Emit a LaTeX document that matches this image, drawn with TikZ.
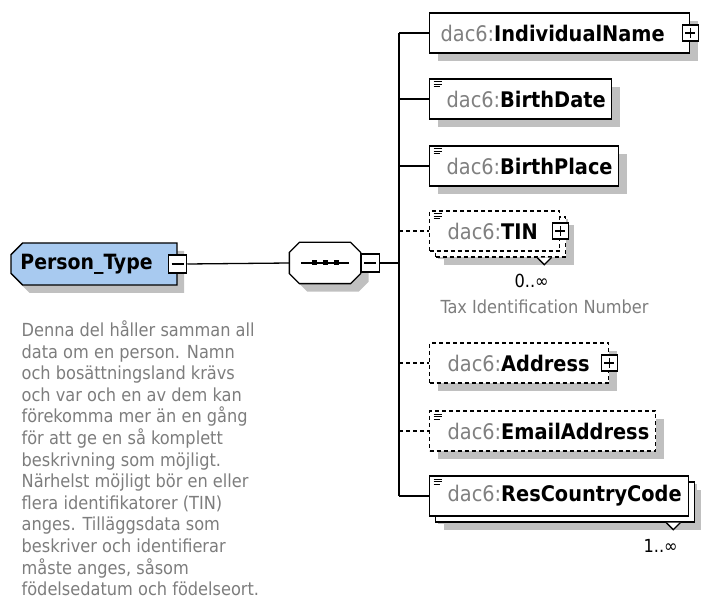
\documentclass[tikz,border=0pt]{standalone}
\usepackage{fontspec}
\setmainfont{DejaVu Sans Condensed}
\usetikzlibrary{positioning,shadows,shapes.misc}

\definecolor{typeblue}{RGB}{168,202,240}
\definecolor{shadowgray}{RGB}{192,192,192}
\definecolor{prefixgray}{RGB}{128,128,128}
\definecolor{docgray}{RGB}{125,125,125}

\newcommand{\elemfont}{\fontsize{21.5}{24}\selectfont}
\newcommand{\docfont}{\fontsize{18}{21.6}\selectfont}
\newcommand{\pfx}{\textcolor{prefixgray}{dac6:}}

\begin{document}
\begin{tikzpicture}[x=1pt, y=-1pt, line width=1.3pt,
  elem/.style={draw, fill=white, anchor=west, minimum height=40pt, inner sep=0pt, align=left, font=\elemfont,
    general shadow={fill=shadowgray, shadow xshift=8pt, shadow yshift=-8pt}},
  optional/.style={dash pattern=on 4pt off 3pt},
  multi/.style={general shadow={fill=shadowgray, shadow xshift=14pt, shadow yshift=-14pt},
    general shadow={draw=black, fill=white, shadow xshift=6pt, shadow yshift=-6pt}},
  note/.style={path picture={\draw[solid, line width=1pt]
    ([shift={(4pt,-3pt)}]path picture bounding box.north west) -- ++(8pt,0pt)
    ([shift={(4pt,-5.5pt)}]path picture bounding box.north west) -- ++(8pt,0pt)
    ([shift={(4pt,-8pt)}]path picture bounding box.north west) -- ++(6pt,0pt);}},
  minusbox/.style={draw, solid, fill=white, minimum size=18pt, inner sep=0pt, line width=1.2pt,
    path picture={\draw ([xshift=3pt]path picture bounding box.west) -- ([xshift=-3pt]path picture bounding box.east);}},
  plusbox/.style={draw, solid, fill=white, minimum size=16pt, inner sep=0pt, line width=1.2pt,
    path picture={\draw ([xshift=3pt]path picture bounding box.west) -- ([xshift=-3pt]path picture bounding box.east)
      ([yshift=-3pt]path picture bounding box.north) -- ([yshift=3pt]path picture bounding box.south);}},
  occurs/.style={anchor=north east, inner sep=0pt, font=\fontsize{18}{20}\selectfont}]
\useasboundingbox (0,0) rectangle (701,601);

% the complex type and its sequence
\node[chamfered rectangle, chamfered rectangle corners={north west, south west}, chamfered rectangle xsep=8pt,
  draw, fill=typeblue, minimum width=166pt, minimum height=42pt, inner sep=0pt, font=\fontsize{21}{24}\selectfont,
  general shadow={fill=shadowgray, shadow xshift=7pt, shadow yshift=-8pt}] (persontype) at (94,264) {\textbf{Person\_Type}\hspace{15pt}\null};
\node[minusbox] (persontype-minus) at (persontype.east) {};

\node[minimum width=70pt, minimum height=40pt, inner sep=0pt] (seq) at (325,263) {};
\draw[fill=white, general shadow={fill=shadowgray, shadow xshift=8pt, shadow yshift=-8pt}]
  ([xshift=10pt]seq.north west) -- ([xshift=-10pt]seq.north east) -- ([yshift=-10pt]seq.north east)
  -- ([yshift=10pt]seq.south east) -- ([xshift=-10pt]seq.south east) -- ([xshift=10pt]seq.south west)
  -- ([yshift=10pt]seq.south west) -- ([yshift=-10pt]seq.north west) -- cycle;
\draw ([xshift=-24pt]seq.center) -- ([xshift=24pt]seq.center);
\foreach \dx in {-11,0,11}
  \fill ([xshift=\dx pt]seq.center) +(-2.5pt,-2.5pt) rectangle +(2.5pt,2.5pt);
\node[minusbox, anchor=west] (seq-minus) at (seq.east) {};

\draw (persontype-minus.east) -- (seq.west);

% child elements
\node[elem, text width=260pt] (indname) at (429,33) {\hspace*{11pt}\pfx\textbf{IndividualName}};
\node[elem, note, text width=182pt] (birthdate) at (429,99) {\hspace*{17pt}\pfx\textbf{BirthDate}};
\node[elem, note, text width=189pt] (birthplace) at (429,166) {\hspace*{17pt}\pfx\textbf{BirthPlace}};
\node[elem, note, optional, multi, text width=130pt] (tin) at (429,231) {\hspace*{18pt}\pfx\textbf{TIN}};
\node[elem, optional, text width=179pt] (address) at (429,363) {\hspace*{18pt}\pfx\textbf{Address}};
\node[elem, note, optional, text width=226pt] (email) at (429,431) {\hspace*{18pt}\pfx\textbf{EmailAddress}};
\node[elem, note, multi, text width=259pt] (rescountry) at (429,496) {\hspace*{18pt}\pfx\textbf{ResCountryCode}};

\node[plusbox] (indname-plus) at (indname.east) {};
\node[plusbox] (tin-plus) at (tin.east) {};
\node[plusbox] (address-plus) at (address.east) {};

% occurrence marks
\draw[fill=white] ([shift={(-23pt,-6pt)}]tin.south east) -- ++(7pt,-7pt) -- ++(7pt,7pt);
\node[occurs] (tin-occurs) at ([shift={(-11pt,-22pt)}]tin.south east) {0..∞};
\draw[fill=white] ([shift={(-23pt,-6pt)}]rescountry.south east) -- ++(7pt,-7pt) -- ++(7pt,7pt);
\node[occurs] (rescountry-occurs) at ([shift={(-11pt,-22pt)}]rescountry.south east) {1..∞};

% bus
\coordinate (bustop) at (399,33);
\coordinate (busbot) at (399,496);
\draw (seq-minus.east) -- (seq-minus.east -| bustop);
\draw (bustop) -- (busbot);
\draw (bustop) -- (indname.west);
\draw (birthdate.west -| bustop) -- (birthdate.west);
\draw (birthplace.west -| bustop) -- (birthplace.west);
\draw[optional] (tin.west -| bustop) -- (tin.west);
\draw[optional] (address.west -| bustop) -- (address.west);
\draw[optional] (email.west -| bustop) -- (email.west);
\draw (busbot) -- (rescountry.west);

% annotations
\node[anchor=west, inner sep=0pt, text=docgray, font=\docfont] (tin-doc) at (440,307) {Tax Identification Number};
\node[anchor=north west, inner sep=0pt, align=left, text=docgray, font=\docfont] (persontype-doc) at (21,320)
  {Denna del håller samman all\\data om en person. Namn\\och bosättningsland krävs\\och var och en av dem kan\\förekomma mer än en gång\\för att ge en så komplett\\beskrivning som möjligt.\\Närhelst möjligt bör en eller\\flera identifikatorer (TIN)\\anges. Tilläggsdata som\\beskriver och identifierar\\måste anges, såsom\\födelsedatum och födelseort.};
\end{tikzpicture}
\end{document}
